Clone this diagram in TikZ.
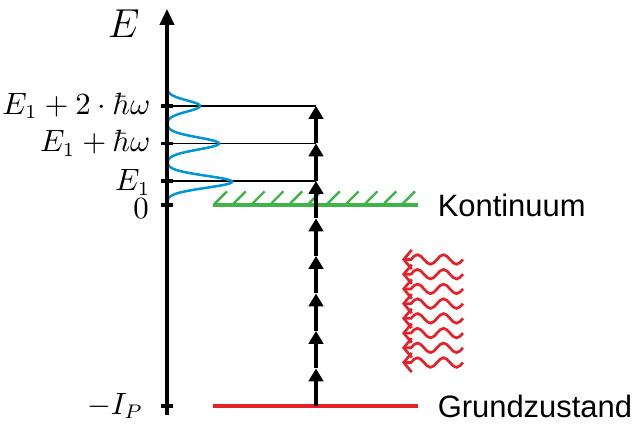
\documentclass[tikz,border=0pt]{standalone}
\usepackage{amsmath,amssymb}
\usepackage{fontspec}
\newfontfamily\statefont{Liberation Sans}
\usetikzlibrary{arrows.meta,calc,positioning}
\definecolor{peakblue}{RGB}{0,150,214}
\definecolor{contgreen}{RGB}{64,180,72}
\definecolor{groundred}{RGB}{232,32,40}

\begin{document}
\begin{tikzpicture}[font=\fontsize{10.5}{12}\selectfont,>=Latex]
\tikzset{eaxis/.style={line width=1.1pt,-{Triangle[width=1.8mm,length=2mm]}},
tickmark/.style={line width=1.1pt},
level/.style={line width=0.4pt},
peak/.style={peakblue,line width=0.9pt},
photon/.style={line width=1.1pt,-{Triangle[width=1.8mm,length=1.6mm]}},
contline/.style={contgreen,line width=1.7pt},
hatch/.style={contgreen,line width=0.85pt},
groundline/.style={groundred,line width=1.7pt},
lightwave/.style={groundred,line width=0.95pt,{Straight Barb[length=1mm,width=2.4mm]}-},
statelabel/.style={font=\statefont\fontsize{11}{13}\selectfont,inner sep=0pt}}
\useasboundingbox (-2.0875,-2.7875) rectangle (5.8375,2.5625);
% energy levels on the axis
\coordinate (ground) at (0,-2.5125);
\coordinate (zero) at (0,0);
\coordinate (e1) at (0,0.3);
\coordinate (e2) at (0,0.76875);
\coordinate (e3) at (0,1.2375);
\coordinate (axbot) at (0,-2.63);
\coordinate (axtop) at (0,2.45);
% photon ladder
\foreach \i in {0,...,8}
  \coordinate (p\i) at (1.8625,-2.5125+\i*0.46875);
\coordinate (contL) at (0.575,0);
\coordinate (contR) at (3.1375,0);
\coordinate (groundL) at (0.575,-2.5125);
\coordinate (groundR) at (3.1375,-2.5125);

\draw[contline] (contL) -- (contR);
\foreach \k in {0,...,10}
  \draw[hatch] ($(contL)+(0.025+\k*0.235,0.02)$) -- ++(0.15,0.15);
\draw[groundline] (groundL) -- (groundR);

\draw[level] (e1) -- (p6);
\draw[level] (e2) -- (p7);
\draw[level] (e3) -- (p8);
\draw[peak] plot[domain=0.07:1.42,samples=240,variable=\y]
  ({0.8125*exp(-0.5*((\y-0.29)/0.075)^2)+0.65*exp(-0.5*((\y-0.76875)/0.075)^2)+0.4125*exp(-0.5*((\y-1.2375)/0.07)^2)},\y);

\draw[eaxis] (axbot) -- (axtop);
\foreach \lv in {ground,zero,e1,e2,e3}
  \draw[tickmark] ([xshift=-0.75mm]\lv) -- ([xshift=0.75mm]\lv);
\node (elabel) at (-0.54,2.27) {\fontsize{14}{16}\selectfont$E$};
\node[anchor=east,inner sep=0pt] (le3) at (-0.2,1.2375) {$E_1+2\cdot\hbar\omega$};
\node[anchor=east,inner sep=0pt] (le2) at (-0.2,0.76875) {$E_1+\hbar\omega$};
\node[anchor=east,inner sep=0pt] (le1) at (-0.2,0.28) {$E_1$};
\node[anchor=east,inner sep=0pt] (lzero) at (-0.22,-0.05) {$0$};
\node[anchor=east,inner sep=0pt] (lground) at (-0.29,-2.5125) {$-I_P$};

\foreach \i [count=\j] in {0,...,7}
  \draw[photon] (p\i) -- (p\j);

% incoming light
\foreach \i in {0,...,7}{
  \coordinate (w\i) at (2.9375,-0.68125-\i*0.184);
  \draw[lightwave] (w\i) -- ++(0.1125,0) sin ++(0.08125,0.06) cos ++(0.08125,-0.06)
    sin ++(0.08125,-0.06) cos ++(0.08125,0.06) sin ++(0.08125,0.06)
    cos ++(0.08125,-0.06) sin ++(0.08125,-0.06) cos ++(0.08125,0.06);
}

\node[statelabel,anchor=west,right=2.4mm of contR] (kont) {Kontinuum};
\node[statelabel,anchor=west,right=2.4mm of groundR] (grund) {Grundzustand};
\end{tikzpicture}
\end{document}
